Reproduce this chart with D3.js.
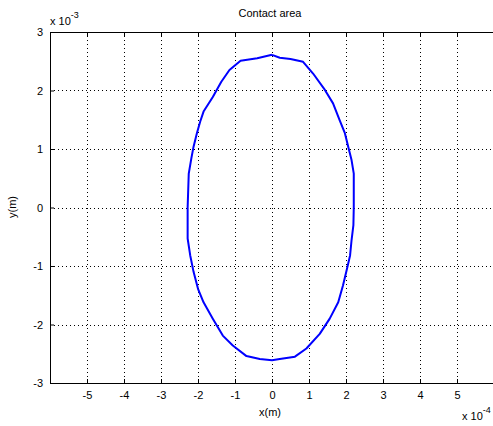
<!DOCTYPE html>
<html>
  <head>
    <meta charset="utf-8">
    <title>Contact area</title>
    <script src="https://d3js.org/d3.v7.min.js"></script>
    <style>
      body { margin: 0; background: #fff; }
      text { font-family: "Liberation Sans", Arial, sans-serif; font-size: 11px; fill: #000; }
    </style>
  </head>
  <body>
    <script>
      var width = 493;
      var height = 426;

      // contour points, x in units of 1e-4 m, y in units of 1e-3 m
      var xs = [0, 0.21, 0.5, 0.84, 1.11, 1.43, 1.65, 1.83, 1.97, 2.06, 2.15, 2.21, 2.21, 2.2, 2.15, 2.11, 2.03, 1.92, 1.79, 1.56, 1.29, 0.93, 0.62, 0.21, 0,
                -0.33, -0.69, -1.06, -1.33, -1.6, -1.85, -2.0, -2.12, -2.21, -2.28, -2.28, -2.25, -2.18, -2.12, -2.03, -1.94, -1.85, -1.6, -1.37, -1.15, -0.85, -0.4, 0];
      var ys = [2.61, 2.56, 2.54, 2.49, 2.29, 2.01, 1.78, 1.49, 1.27, 1.04, 0.81, 0.58, 0.0, -0.3, -0.56, -0.82, -1.04, -1.33, -1.62, -1.9, -2.16, -2.41, -2.55, -2.59, -2.61,
                -2.59, -2.54, -2.36, -2.19, -1.9, -1.62, -1.39, -1.1, -0.82, -0.53, 0.0, 0.58, 0.84, 1.04, 1.27, 1.47, 1.64, 1.89, 2.15, 2.35, 2.51, 2.55, 2.61];

      var xTicks = [-5, -4, -3, -2, -1, 0, 1, 2, 3, 4, 5];
      var yTicks = [-3, -2, -1, 0, 1, 2, 3];

      var mLeft = 50, mRight = 494, mTop = 32, mBottom = 383;

      var svg = d3.select("body").append("svg").attr("width", width).attr("height", height);

      var xScale = d3.scaleLinear().domain([-6, 6]).range([mLeft, mRight]);
      var yScale = d3.scaleLinear().domain([-3, 3]).range([mBottom, mTop]);

      // grid
      var grid = svg.append("g").attr("stroke", "#000").attr("stroke-width", 1).attr("stroke-dasharray", "1,3");
      grid.selectAll("line.gx").data(xTicks).enter().append("line")
        .attr("x1", (d) => Math.round(xScale(d)) + 0.5).attr("x2", (d) => Math.round(xScale(d)) + 0.5)
        .attr("y1", mTop).attr("y2", mBottom);
      grid.selectAll("line.gy").data(yTicks.slice(1, -1)).enter().append("line")
        .attr("y1", (d) => Math.round(yScale(d)) + 0.5).attr("y2", (d) => Math.round(yScale(d)) + 0.5)
        .attr("x1", mLeft).attr("x2", mRight);

      // axes
      var fmt = (d) => String(d);
      var axisB = d3.axisBottom(xScale).tickValues(xTicks).tickSizeInner(-4).tickSizeOuter(0).tickPadding(8).tickFormat(fmt);
      var axisT = d3.axisTop(xScale).tickValues(xTicks).tickSizeInner(-4).tickSizeOuter(0).tickFormat("");
      var axisL = d3.axisLeft(yScale).tickValues(yTicks).tickSizeInner(-4).tickSizeOuter(0).tickPadding(7).tickFormat(fmt);

      var gb = svg.append("g").attr("transform", "translate(0," + mBottom + ")").call(axisB);
      var gt = svg.append("g").attr("transform", "translate(0," + mTop + ")").call(axisT);
      var gl = svg.append("g").attr("transform", "translate(" + mLeft + ",0)").call(axisL);
      [gb, gt, gl].forEach((g) => {
        g.select(".domain").attr("stroke", "#000");
        g.selectAll(".tick line").attr("stroke", "#000");
        g.selectAll("text").style("font-family", "Liberation Sans, Arial, sans-serif").style("font-size", "11px").attr("fill", "#000");
      });

      // contour
      var line = d3.line()
        .x((d, i) => xScale(xs[i]))
        .y((d, i) => yScale(ys[i]));
      svg.append("path")
        .datum(xs)
        .attr("d", line)
        .attr("fill", "none")
        .attr("stroke", "#0000ff")
        .attr("stroke-width", 2)
        .attr("stroke-linejoin", "round");

      // labels
      svg.append("text").attr("x", 270).attr("y", 17).attr("text-anchor", "middle").text("Contact area");
      svg.append("text").attr("x", 270).attr("y", 416).attr("text-anchor", "middle").text("x(m)");
      svg.append("text").attr("transform", "translate(16,207) rotate(-90)").attr("text-anchor", "middle").text("y(m)");

      var ex = svg.append("text").attr("x", 50).attr("y", 25);
      ex.append("tspan").text("x 10");
      ex.append("tspan").attr("dy", -7).style("font-size", "9px").text("-3");

      var ex2 = svg.append("text").attr("x", 462).attr("y", 420);
      ex2.append("tspan").text("x 10");
      ex2.append("tspan").attr("dy", -7).style("font-size", "9px").text("-4");
    </script>
  </body>
</html>
